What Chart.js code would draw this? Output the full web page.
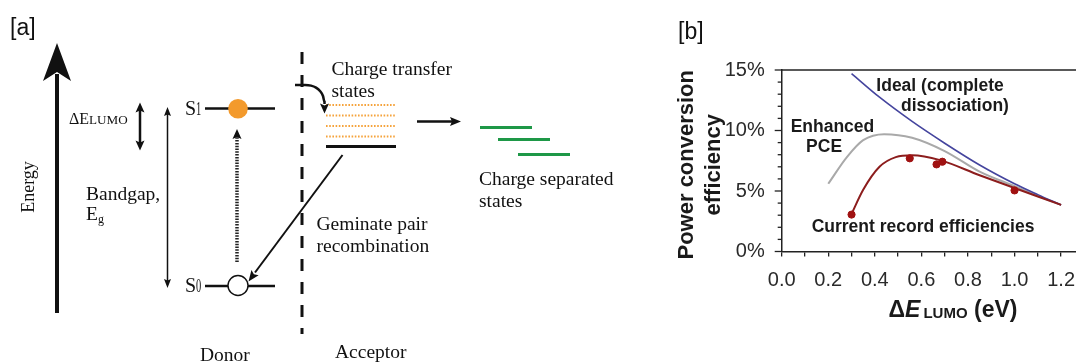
<!DOCTYPE html>
<html><head><meta charset="utf-8">
<script src="https://cdn.jsdelivr.net/npm/chart.js@4.4.1/dist/chart.umd.min.js"></script>
<style>
html,body{margin:0;padding:0;background:#fff;overflow:hidden;width:1076px;height:363px;}
#wrap{position:relative;width:1076px;height:363px;}
canvas{position:absolute;top:0;}
#ca{left:0;} #cb{left:660px;}
</style></head><body>
<div id="wrap"><canvas id="ca" width="660" height="363"></canvas><canvas id="cb" width="416" height="363"></canvas></div>
<script>
// ================= panel [b] data =================
const xTickLabels = ['0.0','0.2','0.4','0.6','0.8','1.0','1.2'];
const yTickLabels = ['0%','5%','10%','15%'];
const idealX    = [0.30,0.42,0.56,0.70,0.85,1.00,1.10,1.20];
const idealY    = [14.7,12.75,10.75,8.95,7.15,5.6,4.7,3.85];
const enhancedX = [0.20,0.28,0.35,0.44,0.56,0.70,0.85,1.00,1.10,1.20];
const enhancedY = [5.6,7.8,9.2,9.7,9.4,8.3,6.6,5.4,4.6,3.85];
const recordX   = [0.30,0.35,0.42,0.49,0.56,0.68,0.85,1.00,1.10,1.20];
const recordY   = [3.1,5.1,7.0,7.8,7.95,7.55,6.3,5.25,4.55,3.85];
const recordPtsX = [0.30,0.55,0.665,0.69,1.00];
const recordPtsY = [3.05,7.7,7.2,7.42,5.05];
const noteTexts = ['Ideal (complete','dissociation)','Enhanced','PCE','Current record efficiencies'];
const noteX = [0.68,0.744,0.218,0.182,0.607];
const noteY = [13.68,12.02,10.31,8.66,2.05];

// ================= panel [a] diagram (diagram units) =================
const energyAxis = [[57,313],[57,74]];
const levelS1 = [[205,108.5],[275,108.5]];
const levelS0 = [[205,286],[275,286]];
const ctGround = [[326,146.5],[396,146.5]];
const ctLevelsY = [105,115.5,126,136.5];
const ctLevelsX = [326,395];
const csLevels = [[[480,127.5],[532,127.5]],[[498,139.5],[550,139.5]],[[518,154.5],[570,154.5]]];
const toCsArrow = [[417,121.5],[452,121.5]];
const geminateArrow = [[342.5,155],[255,272.5]];
const lumoArrow = [[140,110],[140,143]];
const gapArrow = [[167.5,113],[167.5,282]];
const excitationArrow = [[237,262],[237,137]];
const transferArrow = [[295,85],[305,85],[311,85.6],[316,87.6],[320,91],[323,96],[324.5,102],[324.5,104]];
const divider = [[302,52],[302,334]];
const excitonPos = [238,108.8];
const holePos = [238,285.5];
const arrowHeads = [
  {tip:[57,43], from:[57,313], len:38, half:14, notch:9},
  {tip:[140,102.5], from:[140,150], len:10, half:4.5, notch:2},
  {tip:[140,150.5], from:[140,102], len:10, half:4.5, notch:2},
  {tip:[167.5,107], from:[167.5,288], len:9, half:3.5, notch:1.5},
  {tip:[167.5,288], from:[167.5,107], len:9, half:3.5, notch:1.5},
  {tip:[237,129], from:[237,262], len:10, half:4.5, notch:2},
  {tip:[324.5,113.5], from:[324.5,100], len:10, half:4.5, notch:2},
  {tip:[461,121.5], from:[417,121.5], len:11, half:4.5, notch:2},
  {tip:[248.5,281.5], from:[342.5,155], len:11, half:4.5, notch:2}
];
const aTexts = ['Charge transfer','states','Charge separated','states','Geminate pair','recombination','Bandgap,','Donor','Acceptor'];
const aTextPos = [[331.5,75],[331.5,96.5],[479,185],[479,206.5],[316.5,230],[316.5,251.5],[86,200],[200,361],[335,358]];

const SERIF = '"Liberation Serif","Times New Roman",serif';
const SANS = '"Liberation Sans",Arial,sans-serif';

function runs(ctx, x, y, list){ // list: [text, font, dy, sx]
  let cx = x;
  list.forEach(([t,f,dy,sx])=>{
    ctx.font = f; sx = sx||1;
    ctx.save(); ctx.translate(cx, y+(dy||0)); ctx.scale(sx,1);
    ctx.fillText(t,0,0); ctx.restore();
    cx += ctx.measureText(t).width*sx;
  });
  return cx-x;
}
function runsWidth(ctx, list){
  let w=0; list.forEach(([t,f,dy,sx])=>{ctx.font=f; w+=ctx.measureText(t).width*(sx||1);}); return w;
}

// ---------- panel a chart ----------
function seg(pts, color, width, dash, extra){
  return Object.assign({data: pts.map(p=>({x:p[0],y:p[1]})), showLine:true, pointRadius:0,
    borderColor:color, borderWidth:width, borderDash:dash||[], borderCapStyle:'butt', fill:false, tension:0, order:2}, extra||{});
}
const aSets = [
  {data:[{x:excitonPos[0],y:excitonPos[1]}], showLine:false, pointRadius:9.8, pointBackgroundColor:'#f39a2c', pointBorderColor:'#f39a2c', pointBorderWidth:0, order:0},
  {data:[{x:holePos[0],y:holePos[1]}], showLine:false, pointRadius:10, pointBackgroundColor:'#ffffff', pointBorderColor:'#111', pointBorderWidth:1.4, order:0},
  seg(energyAxis,'#111',4),
  seg(levelS1,'#111',2.5),
  seg(levelS0,'#111',2.5),
  seg(ctGround,'#111',3),
  ...ctLevelsY.map(yy=>seg([[ctLevelsX[0],yy],[ctLevelsX[1],yy]],'#f5a33c',2,[1.6,1.6])),
  ...csLevels.map(l=>seg(l,'#1e9847',3)),
  seg(toCsArrow,'#111',2.5),
  seg(geminateArrow,'#111',2),
  seg(lumoArrow,'#111',2.5),
  seg(gapArrow,'#111',1.5),
  seg(excitationArrow,'#222',3.5,[1.5,1.3]),
  seg(transferArrow,'#111',2.5,[],{cubicInterpolationMode:'monotone'}),
  seg(divider,'#111',3,[12,11])
];
const diagramPlugin = {
  id:'diagram',
  afterDatasetsDraw(chart){
    const {ctx, scales:{x,y}} = chart;
    const P = p=>[x.getPixelForValue(p[0]), y.getPixelForValue(p[1])];
    ctx.save();
    ctx.fillStyle='#111';
    arrowHeads.forEach(h=>{
      const [tx,ty]=P(h.tip), [fx,fy]=P(h.from);
      let ux=tx-fx, uy=ty-fy; const L=Math.hypot(ux,uy); ux/=L; uy/=L;
      const nx=-uy, ny=ux;
      const bx=tx-ux*h.len, by=ty-uy*h.len;
      const mx=tx-ux*(h.len-h.notch), my=ty-uy*(h.len-h.notch);
      ctx.beginPath(); ctx.moveTo(tx,ty); ctx.lineTo(bx+nx*h.half,by+ny*h.half);
      ctx.lineTo(mx,my); ctx.lineTo(bx-nx*h.half,by-ny*h.half); ctx.closePath(); ctx.fill();
    });
    ctx.fillStyle='#111'; ctx.textAlign='left'; ctx.textBaseline='alphabetic';
    ctx.font = '19.5px '+SERIF;
    aTexts.forEach((t,i)=>{ const [px,py]=P(aTextPos[i]); ctx.fillText(t,px,py); });
    let q=P([86,220]); runs(ctx,q[0],q[1],[['E','19.5px '+SERIF,0],['g','12px '+SERIF,3]]);
    q=P([69,124]); runs(ctx,q[0],q[1],[['\u0394','16px '+SERIF,0],['E','16px '+SERIF,0],['LUMO','12.5px '+SERIF,0,1.05]]);
    q=P([185,115]); runs(ctx,q[0],q[1],[['S','20px '+SERIF,0],['1','19px '+SERIF,0,0.55]]);
    q=P([185,292]); runs(ctx,q[0],q[1],[['S','20px '+SERIF,0],['0','19px '+SERIF,0,0.55]]);
    q=P([33.5,187]);
    ctx.save(); ctx.translate(q[0],q[1]); ctx.rotate(-Math.PI/2);
    ctx.textAlign='center'; ctx.font='18px '+SERIF; ctx.fillText('Energy',0,0); ctx.restore();
    q=P([10,35]); ctx.textAlign='left'; ctx.font='23px '+SANS; ctx.fillStyle='#111'; ctx.fillText('[a]',q[0],q[1]);
    ctx.restore();
  }
};
new Chart(document.getElementById('ca'), {
  type:'scatter',
  data:{datasets:aSets},
  options:{responsive:false, animation:false, events:[],
    layout:{padding:0, autoPadding:false},
    plugins:{legend:{display:false}, tooltip:{enabled:false}},
    scales:{
      x:{type:'linear', min:0, max:660, display:false},
      y:{type:'linear', min:0, max:363, reverse:true, display:false}
    }},
  plugins:[diagramPlugin]
});

// ---------- panel b chart ----------
const zip = (xs,ys)=>xs.map((v,i)=>({x:v,y:ys[i]}));
const bPlugin = {
  id:'panelB',
  afterDraw(chart){
    const {ctx, chartArea:ca, scales:{x,y}} = chart;
    ctx.save();
    ctx.strokeStyle='#222'; ctx.lineWidth=1.5;
    ctx.beginPath(); ctx.moveTo(ca.left, ca.top); ctx.lineTo(ca.right, ca.top); ctx.stroke();
    ctx.lineWidth=1.3;
    for(let v=y.min; v<=y.max; v+=1){
      const py=y.getPixelForValue(v); const len=(v%5===0)?7:4;
      ctx.beginPath(); ctx.moveTo(ca.left-len,py); ctx.lineTo(ca.left,py); ctx.stroke();
    }
    ctx.fillStyle='#1a1a1a'; ctx.textAlign='center'; ctx.textBaseline='middle';
    ctx.font='bold 17.5px '+SANS;
    noteTexts.forEach((t,i)=>ctx.fillText(t, x.getPixelForValue(noteX[i]), y.getPixelForValue(noteY[i])));
    ctx.textBaseline='alphabetic'; ctx.font='bold 22px '+SANS;
    const cy=(ca.top+ca.bottom)/2+4;
    ctx.save(); ctx.translate(33,cy); ctx.rotate(-Math.PI/2); ctx.fillText('Power conversion',0,0); ctx.restore();
    ctx.save(); ctx.translate(60,cy); ctx.rotate(-Math.PI/2); ctx.fillText('efficiency',0,0); ctx.restore();
    ctx.textAlign='left';
    const xt=[['\u0394','bold 23px '+SANS,0],['E','italic bold 23px '+SANS,0],['\u2009','bold 15px '+SANS,0],['LUMO','bold 15px '+SANS,1],[' (eV)','bold 23px '+SANS,0]];
    const w=runsWidth(ctx,xt);
    runs(ctx, 293-w/2, 317, xt);
    ctx.font='23px '+SANS; ctx.fillStyle='#111'; ctx.fillText('[b]',18,38.5);
    ctx.restore();
  }
};
new Chart(document.getElementById('cb'), {
  type:'scatter',
  data:{datasets:[
    {data:zip(recordPtsX,recordPtsY), showLine:false, pointRadius:3.6, pointBackgroundColor:'#a01212', pointBorderColor:'#a01212', order:0},
    {data:zip(recordX,recordY), showLine:true, pointRadius:0, borderColor:'#8c1d1d', borderWidth:2, cubicInterpolationMode:'monotone', order:1},
    {data:zip(idealX,idealY), showLine:true, pointRadius:0, borderColor:'#45459e', borderWidth:1.6, cubicInterpolationMode:'monotone', order:2},
    {data:zip(enhancedX,enhancedY), showLine:true, pointRadius:0, borderColor:'#a9a9a9', borderWidth:2, cubicInterpolationMode:'monotone', order:3}
  ]},
  options:{responsive:false, animation:false, events:[],
    layout:{padding:{top:70,left:0,right:0,bottom:0}, autoPadding:false},
    plugins:{legend:{display:false}, tooltip:{enabled:false}},
    scales:{
      x:{type:'linear', min:0, max:1.264,
        afterFit(s){s.height=111.5;},
        grid:{display:true, drawOnChartArea:false, drawTicks:true, tickLength:5, color:'#222', lineWidth:1.3},
        border:{display:true, color:'#222', width:1.5},
        ticks:{stepSize:0.1, includeBounds:false, autoSkip:false, maxRotation:0, minRotation:0, padding:0,
          color:'#2a2a2a', font:{family:SANS, size:20, lineHeight:2.35},
          callback:v=>xTickLabels.find(l=>Math.abs(parseFloat(l)-v)<1e-6)||''}
      },
      y:{type:'linear', min:0, max:15,
        afterFit(s){s.width=121.7;},
        grid:{display:true, drawOnChartArea:false, drawTicks:false},
        border:{display:true, color:'#222', width:1.5},
        ticks:{stepSize:1, autoSkip:false, padding:17, color:'#2a2a2a', font:{family:SANS, size:20},
          callback:v=>yTickLabels.find(l=>Math.abs(parseFloat(l)-v)<1e-6)||''}
      }
    }},
  plugins:[bPlugin]
});
</script>
</body></html>
